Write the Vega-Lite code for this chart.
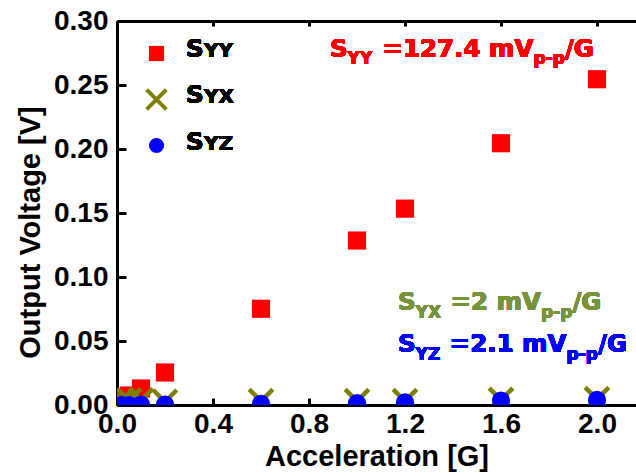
{
  "$schema": "https://vega.github.io/schema/vega-lite/v6.json",
  "width": 519,
  "height": 384,
  "autosize": {"type": "none"},
  "padding": {"left": 117, "top": 21, "right": 0, "bottom": 70},
  "background": "white",
  "config": {
    "view": {"stroke": null},
    "axis": {
      "domainColor": "black", "domainWidth": 3, "tickColor": "black", "tickWidth": 3,
      "grid": false, "labelFont": "Liberation Sans", "labelFontWeight": "bold", "labelFontSize": 28,
      "labelColor": "black", "titleFont": "Liberation Sans", "titleFontWeight": "bold",
      "titleFontSize": 29, "titleColor": "black"
    },
    "legend": {"symbolSize": 230, "symbolStrokeWidth": 4, "symbolOpacity": 1},
    "text": {"align": "left", "baseline": "alphabetic", "font": "DejaVu Sans", "fontWeight": "bold"}
  },
  "data": {"values": [
    {"x": 0.02, "v": 0.0027, "series": "SYY"},
    {"x": 0.05, "v": 0.0074, "series": "SYY"},
    {"x": 0.1, "v": 0.0129, "series": "SYY"},
    {"x": 0.2, "v": 0.0254, "series": "SYY"},
    {"x": 0.6, "v": 0.0752, "series": "SYY"},
    {"x": 1.0, "v": 0.1285, "series": "SYY"},
    {"x": 1.2, "v": 0.1534, "series": "SYY"},
    {"x": 1.6, "v": 0.2045, "series": "SYY"},
    {"x": 2.0, "v": 0.2545, "series": "SYY"},
    {"x": 0.02, "v": 0.0035, "series": "SYX"},
    {"x": 0.05, "v": 0.0035, "series": "SYX"},
    {"x": 0.1, "v": 0.0035, "series": "SYX"},
    {"x": 0.2, "v": 0.0025, "series": "SYX"},
    {"x": 0.6, "v": 0.003, "series": "SYX"},
    {"x": 1.0, "v": 0.003, "series": "SYX"},
    {"x": 1.2, "v": 0.003, "series": "SYX"},
    {"x": 1.6, "v": 0.004, "series": "SYX"},
    {"x": 2.0, "v": 0.0045, "series": "SYX"},
    {"x": 0.02, "v": 0.0, "series": "SYZ"},
    {"x": 0.05, "v": 0.0, "series": "SYZ"},
    {"x": 0.1, "v": 0.0003, "series": "SYZ"},
    {"x": 0.2, "v": 0.0004, "series": "SYZ"},
    {"x": 0.6, "v": 0.001, "series": "SYZ"},
    {"x": 1.0, "v": 0.0015, "series": "SYZ"},
    {"x": 1.2, "v": 0.002, "series": "SYZ"},
    {"x": 1.6, "v": 0.0035, "series": "SYZ"},
    {"x": 2.0, "v": 0.004, "series": "SYZ"}
  ]},
  "resolve": {"axis": {"x": "independent"}},
  "layer": [
    {
      "mark": {"type": "point", "filled": true, "clip": true, "strokeWidth": 4.5, "opacity": 1, "size": 330},
      "encoding": {
        "x": {"field": "x", "type": "quantitative",
          "scale": {"domain": [0, 2.1625], "nice": false, "zero": false},
          "axis": {"title": "Acceleration [G]", "values": [0, 0.4, 0.8, 1.2, 1.6, 2.0], "format": ".1f",
            "tickSize": -7, "labelPadding": 12, "titlePadding": 4, "labelFlush": false}},
        "y": {"field": "v", "type": "quantitative",
          "scale": {"domain": [0, 0.3], "nice": false, "zero": false},
          "axis": {"title": "Output Voltage [V]",
            "values": [0, 0.025, 0.05, 0.075, 0.1, 0.125, 0.15, 0.175, 0.2, 0.225, 0.25, 0.275, 0.3],
            "labelExpr": "round(datum.value*1000) % 50 == 0 ? format(datum.value, '.2f') : ''",
            "tickSize": {"condition": {"test": "round(datum.value*1000) % 50 == 0", "value": -9}, "value": -5},
            "labelPadding": 18, "titlePadding": 8, "titleY": 211, "labelFlush": false}},
        "shape": {"field": "series", "type": "nominal",
          "scale": {"domain": ["SYY", "SYX", "SYZ"], "range": ["square", "M-1.3,-1.3L1.3,1.3M-1.3,1.3L1.3,-1.3", "circle"]},
          "legend": {"orient": "none", "legendX": 29.5, "legendY": 22.5, "title": null, "labelExpr": "''",
            "labelFontSize": 12, "padding": 0, "rowPadding": 12}},
        "fill": {"field": "series", "type": "nominal",
          "scale": {"domain": ["SYY", "SYX", "SYZ"], "range": ["#FF0000", "transparent", "#0000FF"]},
          "legend": {"orient": "none", "legendX": 29.5, "legendY": 22.5, "title": null, "labelExpr": "''",
            "labelFontSize": 12, "padding": 0, "rowPadding": 12}},
        "stroke": {"field": "series", "type": "nominal",
          "scale": {"domain": ["SYY", "SYX", "SYZ"], "range": ["transparent", "#808000", "transparent"]},
          "legend": {"orient": "none", "legendX": 29.5, "legendY": 22.5, "title": null, "labelExpr": "''",
            "labelFontSize": 12, "padding": 0, "rowPadding": 12}}
      }
    },
    {
      "mark": {"type": "text", "text": ""},
      "encoding": {
        "x": {"field": "x", "type": "quantitative",
          "axis": {"orient": "top", "title": null, "labels": false, "values": [0, 0.4, 0.8, 1.2, 1.6, 2.0], "tickSize": -5}},
        "y": {"field": "v", "type": "quantitative"}
      }
    },
    {"mark": {"type": "text", "text": "S", "fontSize": 24.5, "color": "black"},
     "encoding": {"x": {"datum": 0.2875, "type": "quantitative", "axis": null}, "y": {"datum": 0.2719, "type": "quantitative"}}},
    {"mark": {"type": "text", "text": "YY", "fontSize": 20, "color": "black"},
     "encoding": {"x": {"datum": 0.3625, "type": "quantitative", "axis": null}, "y": {"datum": 0.2719, "type": "quantitative"}}},
    {"mark": {"type": "text", "text": "S", "fontSize": 24.5, "color": "black"},
     "encoding": {"x": {"datum": 0.2875, "type": "quantitative", "axis": null}, "y": {"datum": 0.2357, "type": "quantitative"}}},
    {"mark": {"type": "text", "text": "YX", "fontSize": 20, "color": "black"},
     "encoding": {"x": {"datum": 0.3625, "type": "quantitative", "axis": null}, "y": {"datum": 0.2357, "type": "quantitative"}}},
    {"mark": {"type": "text", "text": "S", "fontSize": 24.5, "color": "black"},
     "encoding": {"x": {"datum": 0.2875, "type": "quantitative", "axis": null}, "y": {"datum": 0.1992, "type": "quantitative"}}},
    {"mark": {"type": "text", "text": "YZ", "fontSize": 20, "color": "black"},
     "encoding": {"x": {"datum": 0.3625, "type": "quantitative", "axis": null}, "y": {"datum": 0.1992, "type": "quantitative"}}},

    {"mark": {"type": "text", "text": "S", "fontSize": 24.5, "color": "#FF0000"},
     "encoding": {"x": {"datum": 0.8875, "type": "quantitative", "axis": null}, "y": {"datum": 0.2719, "type": "quantitative"}}},
    {"mark": {"type": "text", "text": "YY", "fontSize": 17, "color": "#FF0000"},
     "encoding": {"x": {"datum": 0.9608, "type": "quantitative", "axis": null}, "y": {"datum": 0.2664, "type": "quantitative"}}},
    {"mark": {"type": "text", "text": "=127.4 mV", "fontSize": 24.5, "color": "#FF0000"},
     "encoding": {"x": {"datum": 1.1059, "type": "quantitative", "axis": null}, "y": {"datum": 0.2719, "type": "quantitative"}}},
    {"mark": {"type": "text", "text": "p-p", "fontSize": 17, "color": "#FF0000"},
     "encoding": {"x": {"datum": 1.7354, "type": "quantitative", "axis": null}, "y": {"datum": 0.2664, "type": "quantitative"}}},
    {"mark": {"type": "text", "text": "/G", "fontSize": 24.5, "color": "#FF0000"},
     "encoding": {"x": {"datum": 1.8663, "type": "quantitative", "axis": null}, "y": {"datum": 0.2719, "type": "quantitative"}}},

    {"mark": {"type": "text", "text": "S", "fontSize": 24.5, "color": "#77933C"},
     "encoding": {"x": {"datum": 1.1708, "type": "quantitative", "axis": null}, "y": {"datum": 0.0742, "type": "quantitative"}}},
    {"mark": {"type": "text", "text": "YX", "fontSize": 17, "color": "#77933C"},
     "encoding": {"x": {"datum": 1.2442, "type": "quantitative", "axis": null}, "y": {"datum": 0.068, "type": "quantitative"}}},
    {"mark": {"type": "text", "text": "=2 mV", "fontSize": 24.5, "color": "#77933C"},
     "encoding": {"x": {"datum": 1.3893, "type": "quantitative", "axis": null}, "y": {"datum": 0.0742, "type": "quantitative"}}},
    {"mark": {"type": "text", "text": "p-p", "fontSize": 17, "color": "#77933C"},
     "encoding": {"x": {"datum": 1.7667, "type": "quantitative", "axis": null}, "y": {"datum": 0.068, "type": "quantitative"}}},
    {"mark": {"type": "text", "text": "/G", "fontSize": 24.5, "color": "#77933C"},
     "encoding": {"x": {"datum": 1.8975, "type": "quantitative", "axis": null}, "y": {"datum": 0.0742, "type": "quantitative"}}},

    {"mark": {"type": "text", "text": "S", "fontSize": 24.5, "color": "#0000FF"},
     "encoding": {"x": {"datum": 1.1708, "type": "quantitative", "axis": null}, "y": {"datum": 0.0414, "type": "quantitative"}}},
    {"mark": {"type": "text", "text": "YZ", "fontSize": 17, "color": "#0000FF"},
     "encoding": {"x": {"datum": 1.2442, "type": "quantitative", "axis": null}, "y": {"datum": 0.0352, "type": "quantitative"}}},
    {"mark": {"type": "text", "text": "=2.1 mV", "fontSize": 24.5, "color": "#0000FF"},
     "encoding": {"x": {"datum": 1.3859, "type": "quantitative", "axis": null}, "y": {"datum": 0.0414, "type": "quantitative"}}},
    {"mark": {"type": "text", "text": "p-p", "fontSize": 17, "color": "#0000FF"},
     "encoding": {"x": {"datum": 1.8733, "type": "quantitative", "axis": null}, "y": {"datum": 0.0352, "type": "quantitative"}}},
    {"mark": {"type": "text", "text": "/G", "fontSize": 24.5, "color": "#0000FF"},
     "encoding": {"x": {"datum": 2.0042, "type": "quantitative", "axis": null}, "y": {"datum": 0.0414, "type": "quantitative"}}}
  ]
}
